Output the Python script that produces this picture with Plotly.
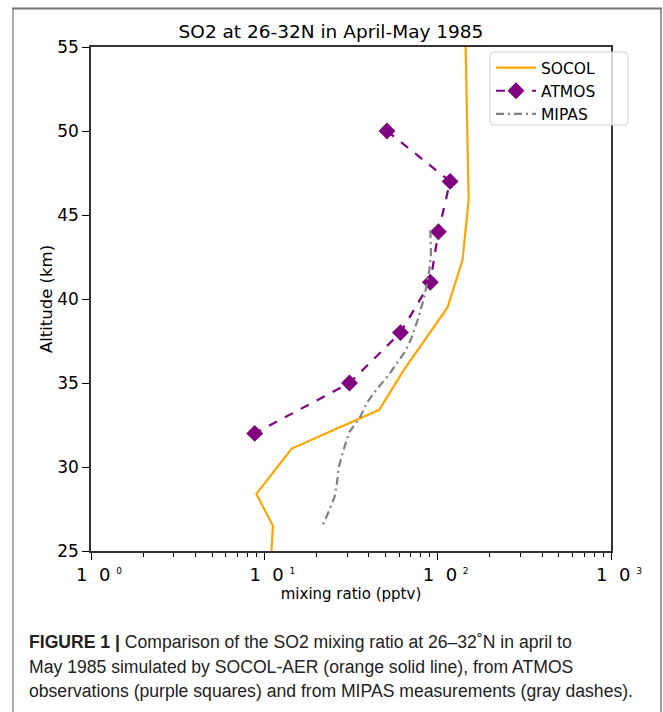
import plotly.graph_objects as go

# ---- data ----
socol_alt = [55.0, 52.0, 49.0, 47.9, 45.9, 42.3, 39.5, 35.8, 33.4, 31.1, 28.4, 26.5, 25.0]
socol_val = [145, 147, 149, 150, 151, 139, 114, 64, 46, 14.4, 9.0, 11.2, 11.0]

atmos_alt = [50, 47, 44, 41, 38, 35, 32]
atmos_val = [51, 118, 101, 90.7, 61, 31, 8.8]

mipas_alt = [44.1, 42.7, 41.7, 40.1, 38.75, 37.6, 36.9, 36.1, 35.4, 34.7, 33.9, 32.9, 32.1,
             31.2, 30.0, 29.0, 28.2, 27.2, 26.5]
mipas_val = [90.7, 91.5, 89.5, 83.7, 76.6, 70.2, 65.1, 57.5, 51.5, 45.1, 39.5, 35.4, 31.0,
             29.0, 26.9, 26.2, 25.4, 23.2, 21.6]

x_tickvals = [1, 10, 100, 1000]
x_ticktext = ["1&nbsp;&nbsp;0&nbsp;<sup><span style='font-size:9px'>%d</span></sup>" % k
              for k in range(4)]
y_tickvals = [25, 30, 35, 40, 45, 50, 55]

caption_lines = [
    "<b>FIGURE 1 |</b> Comparison of the SO2 mixing ratio at 26–32˚N in april to",
    "May 1985 simulated by SOCOL-AER (orange solid line), from ATMOS",
    "observations (purple squares) and from MIPAS measurements (gray dashes).",
]

W, H = 663, 712
L, R, T, B = 91, 611, 47, 551

def px(x):
    return (x - L) / (R - L)

def py(y):
    return (B - y) / (B - T)

minor_vals = [m * 10 ** d for d in range(0, 3) for m in range(2, 10)]

fig = go.Figure()
fig.add_trace(go.Scatter(x=socol_val, y=socol_alt, mode="lines", name="SOCOL",
                         line=dict(color="#FFA500", width=2.2)))
fig.add_trace(go.Scatter(x=atmos_val, y=atmos_alt, mode="lines+markers", name="ATMOS",
                         line=dict(color="#800080", width=2.2, dash="dash"),
                         marker=dict(symbol="diamond", size=13, color="#800080")))
fig.add_trace(go.Scatter(x=mipas_val, y=mipas_alt, mode="lines", name="MIPAS",
                         line=dict(color="#808080", width=2.2, dash="8px,4px,2px,4px")))

fig.update_layout(
    width=W, height=H,
    margin=dict(l=L, r=W - R, t=T, b=H - B),
    paper_bgcolor="white", plot_bgcolor="white",
    font=dict(family="DejaVu Sans", color="black"),
    showlegend=True,
    legend=dict(x=px(491), y=py(51), xanchor="left", yanchor="top",
                bgcolor="rgba(0,0,0,0)", borderwidth=0,
                font=dict(size=15.5, family="DejaVu Sans"),
                itemwidth=40, tracegroupgap=0),
    title=dict(text="SO2 at 26-32N in April-May 1985", x=331 / W, xanchor="center",
               y=1 - 32 / H, yanchor="middle", font=dict(size=18.5)),
)

fig.update_xaxes(type="log", range=[0, 3], tickvals=x_tickvals, ticktext=x_ticktext,
                 ticks="outside", ticklen=7, tickcolor="black", tickwidth=1,
                 ticklabelshift=8,
                 showline=True, linecolor="#333333", linewidth=1.5, mirror=True,
                 showgrid=False, zeroline=False, tickfont=dict(size=18),
                 minor=dict(tickvals=minor_vals, ticks="outside", ticklen=4,
                            tickcolor="black", showgrid=False),
                 title=dict(text="mixing ratio (pptv)", font=dict(size=15), standoff=2))
fig.update_yaxes(range=[25, 55], tickvals=y_tickvals, ticks="outside", ticklen=7,
                 tickcolor="black", showline=True, linecolor="#333333", linewidth=1.5,
                 mirror=True, showgrid=False, zeroline=False, tickfont=dict(size=17),
                 title=dict(text="Altitude (km)", font=dict(size=16.5), standoff=0))

# legend frame (rounded)
x0, x1, y0, y1, r = px(490), px(628), py(52), py(125), 0.008
ry = r * (R - L) / (B - T)
fig.add_shape(type="path", xref="paper", yref="paper",
              path=(f"M {x0+r},{y0} L {x1-r},{y0} Q {x1},{y0} {x1},{y0-ry} "
                    f"L {x1},{y1+ry} Q {x1},{y1} {x1-r},{y1} L {x0+r},{y1} "
                    f"Q {x0},{y1} {x0},{y1+ry} L {x0},{y0-ry} Q {x0},{y0} {x0+r},{y0} Z"),
              line=dict(color="#cccccc", width=1), fillcolor="rgba(255,255,255,0.8)",
              layer="above")

# outer frame
fig.add_shape(type="line", xref="paper", yref="paper", x0=px(13), x1=px(13), y0=py(8), y1=py(720),
              line=dict(color="#aaaaaa", width=2))
fig.add_shape(type="line", xref="paper", yref="paper", x0=px(661), x1=px(661), y0=py(8), y1=py(720),
              line=dict(color="#999999", width=2))
fig.add_shape(type="line", xref="paper", yref="paper", x0=px(12), x1=px(662), y0=py(8.5), y1=py(8.5),
              line=dict(color="#777777", width=2))

for i, line in enumerate(caption_lines):
    fig.add_annotation(text=line, xref="paper", yref="paper", x=px(27), y=py(642 + i * 24.5),
                       xanchor="left", yanchor="middle", showarrow=False,
                       font=dict(family="Liberation Sans", size=17.6, color="#222222"))

fig.write_html("out.html")
